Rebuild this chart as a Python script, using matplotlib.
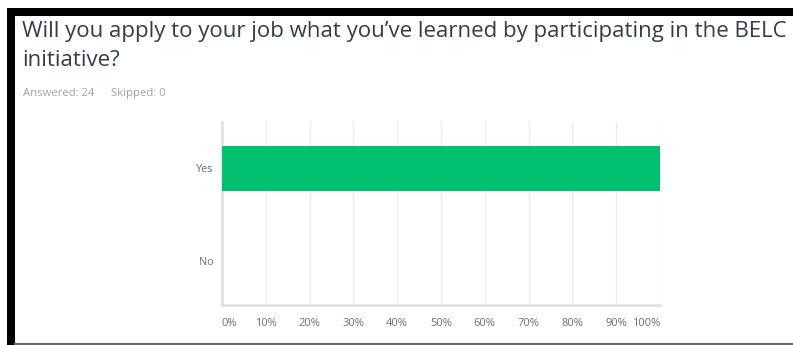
import matplotlib
matplotlib.use("Agg")
import matplotlib.pyplot as plt
from matplotlib.patches import Rectangle
from matplotlib.lines import Line2D

categories = ["Yes", "No"]
values = [100.0, 0.0]
xticks = [0, 10, 20, 30, 40, 50, 60, 70, 80, 90, 100]
xticklabels = ["0%", "10%", "20%", "30%", "40%", "50%", "60%", "70%", "80%", "90%", "100%"]
title_lines = ["Will you apply to your job what you\u2019ve learned by participating in the BELC", "initiative?"]
answered_text = "Answered: 24"
skipped_text = "Skipped: 0"

W, H = 793, 345
fig = plt.figure(figsize=(W / 100, H / 100), dpi=100)
fig.patch.set_facecolor("white")

# frame decorations
fig.add_artist(Rectangle((7 / W, 0), 8 / W, (H - 8) / H, transform=fig.transFigure,
                         facecolor="black", edgecolor="none"))
fig.add_artist(Rectangle((7 / W, (H - 16) / H), (W - 7) / W, 8 / H, transform=fig.transFigure,
                         facecolor="black", edgecolor="none"))
fig.add_artist(Line2D([15 / W, 1], [1.5 / H, 1.5 / H], transform=fig.transFigure,
                      color="#666666", lw=1.5))

font = "Open Sans"
fig.text(22 / W, 1 - 31 / H, title_lines[0], fontsize=16.0, color="#333e48",
         family=font, va="center", ha="left")
fig.text(22 / W, 1 - 60 / H, title_lines[1], fontsize=16.0, color="#333e48",
         family=font, va="center", ha="left")
fig.text(23 / W, 1 - 93.5 / H, answered_text, fontsize=8.1, color="#9da5ab",
         family=font, va="center", ha="left")
fig.text(111 / W, 1 - 93.5 / H, skipped_text, fontsize=8.1, color="#9da5ab",
         family=font, va="center", ha="left")

ax_l, ax_r, ax_t, ax_b = 222, 660, 122, 305
ax = fig.add_axes([ax_l / W, 1 - ax_b / H, (ax_r - ax_l) / W, (ax_b - ax_t) / H])
ypos = list(range(len(categories)))
ax.barh(ypos, values, height=0.485, color="#00bf6f", zorder=3)
ax.set_xlim(0, 100)
ax.set_ylim(1.47, -0.495)
ax.set_yticks(ypos)
ax.set_yticklabels(categories, fontsize=7.8, color="#6a7178", family=font)
ax.set_xticks(xticks)
ax.set_xticklabels(xticklabels, fontsize=8.0, color="#6a7178", family=font)
labels = ax.get_xticklabels()
labels[0].set_ha("left")
labels[-1].set_ha("right")
ax.tick_params(axis="both", length=0)
ax.tick_params(axis="x", pad=9)
ax.tick_params(axis="y", pad=6)
ax.grid(axis="x", color="#ececec", lw=1, zorder=0)
for s in ["top", "right"]:
    ax.spines[s].set_visible(False)
for s in ["left", "bottom"]:
    ax.spines[s].set_color("#e0e0e0")
    ax.spines[s].set_linewidth(1.8)

fig.savefig("out.png", dpi=100, facecolor="white")
